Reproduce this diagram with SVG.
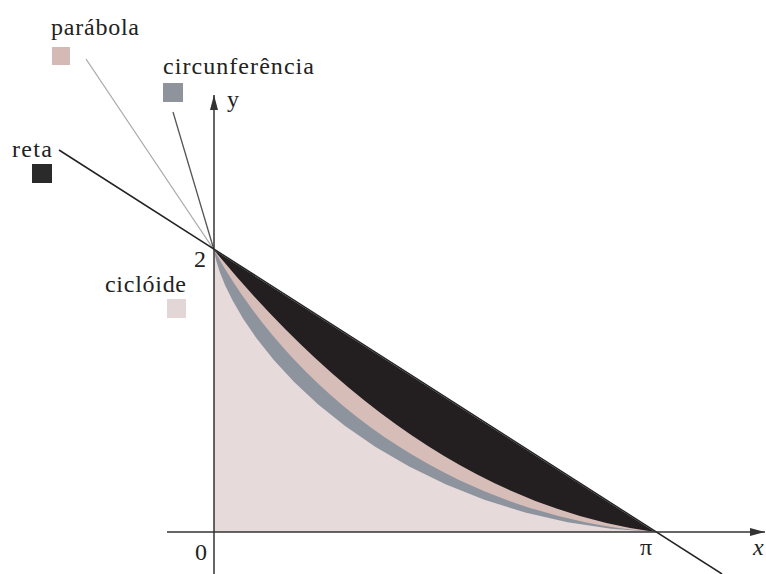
<svg xmlns="http://www.w3.org/2000/svg" width="766" height="574" viewBox="0 0 766 574">
<style>
text{font-family:"Liberation Serif","DejaVu Serif",serif;fill:#222;font-size:24px}
.ax{stroke:#333;stroke-width:1.5;fill:none}
</style>
<defs>
<marker id="arr" markerWidth="16" markerHeight="10" refX="15" refY="5" orient="auto" markerUnits="userSpaceOnUse">
<path d="M0,1 L15,5 L0,9 Z" fill="#333"/>
</marker>
</defs>
<rect width="766" height="574" fill="#fff"/>
<g id="regions">
<path id="reta-area" d="M214,250 L655,532 L214,532 Z" fill="#231f20"/>
<path id="parabola-area" d="M214,250 Q420,500 655,532 L214,532 Z" fill="#d7bdb8"/>
<path id="circ-area" d="M214,250 A552,552 0 0 0 655,532 L214,532 Z" fill="#8e949e"/>
<path id="cicloide-area" d="M214,250 L214.09,250.33 L214.73,254.12 L216.42,261.28 L219.69,271.64 L224.99,284.94 L232.74,300.84 L243.29,318.97 L256.89,338.87 L273.81,360.06 L294.14,382 L317.92,404.16 L345.12,426.01 L375.6,446.99 L409.17,466.6 L445.53,484.34 L484.34,499.78 L525.18,512.54 L567.58,522.33 L611.07,528.86 L655,532 L214,532 Z" fill="#e6dadb"/>
</g>
<g id="connectors">
<line x1="86" y1="59" x2="214" y2="250" stroke="#aaa" stroke-width="1.3"/>
<line x1="173" y1="112" x2="214" y2="250" stroke="#555" stroke-width="1.3"/>
<line x1="59" y1="150" x2="722" y2="574" stroke="#222" stroke-width="1.5"/>
<line class="ax" x1="214" y1="574" x2="214" y2="95" marker-end="url(#arr)"/>
<line class="ax" x1="167" y1="532" x2="765" y2="532" marker-end="url(#arr)"/>
</g>
<g id="parabola-legend">
<text x="51" y="35" textLength="88">parábola</text>
<rect x="52" y="47" width="18" height="18" fill="#d5b9b4"/>
</g>
<g id="circunferencia-legend">
<text x="163" y="74" textLength="151">circunferência</text>
<rect x="163" y="83" width="20" height="19" fill="#8f939c"/>
</g>
<g id="reta-legend">
<text x="12" y="157" textLength="40">reta</text>
<rect x="32" y="164" width="20" height="19" fill="#2a2a2a"/>
</g>
<g id="cicloide-legend">
<text x="105" y="292" textLength="81">ciclóide</text>
<rect x="167" y="299" width="19" height="19" fill="#e3d6d6"/>
</g>
<g id="labels">
<text x="227" y="107">y</text>
<text x="194" y="267" font-size="22">2</text>
<text x="195" y="560" font-size="22">0</text>
<text x="640" y="555">π</text>
<text x="753" y="555" font-style="italic">x</text>
</g>
</svg>
